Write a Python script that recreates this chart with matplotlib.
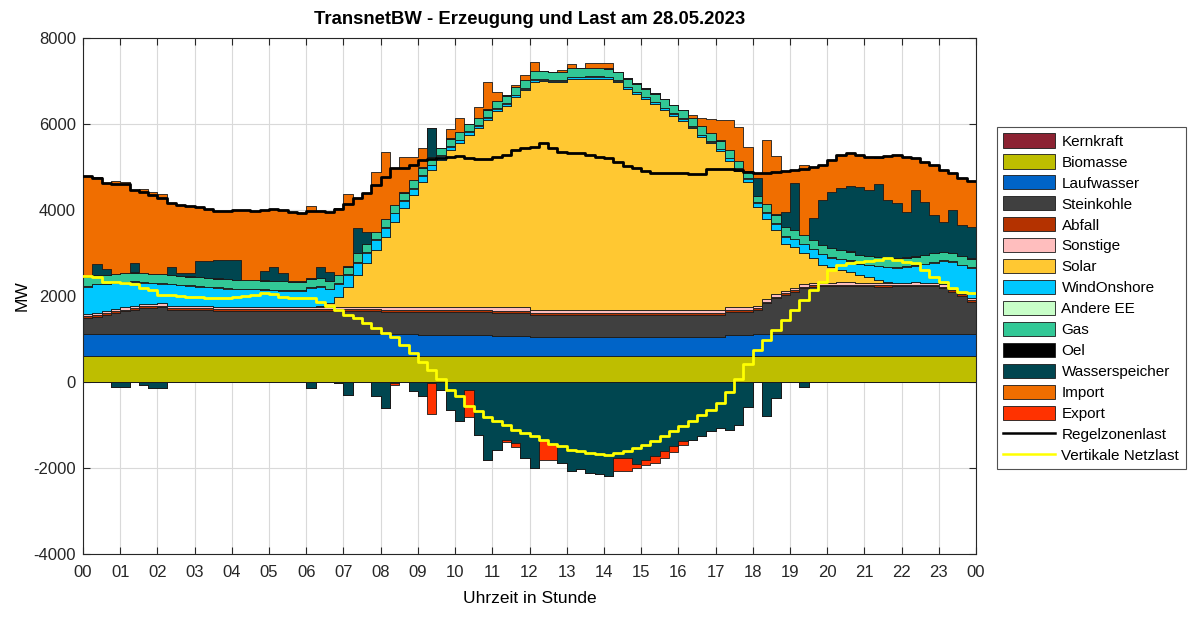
import numpy as np
import matplotlib
matplotlib.use("Agg")
import matplotlib.pyplot as plt
from matplotlib.patches import Patch
from matplotlib.lines import Line2D

plt.rcParams['font.family'] = ['Liberation Sans', 'DejaVu Sans']
plt.rcParams['axes.unicode_minus'] = False

# ---------------- data (MW per quarter hour, 96 values) ----------------
kernkraft = [0] * 96
biomasse = [600] * 96
laufwasser = [516, 516, 516, 516, 516, 516, 516, 516, 516, 516, 516, 516,
              516, 516, 516, 516, 516, 516, 516, 516, 516, 516, 516, 516,
              516, 516, 516, 516, 516, 516, 516, 516, 505, 505, 505, 505,
              495, 495, 495, 495, 485, 485, 485, 485, 475, 475, 475, 475,
              455, 455, 455, 455, 455, 455, 455, 455, 455, 455, 455, 455,
              455, 455, 455, 455, 455, 455, 455, 455, 455, 490, 490, 490,
              516, 516, 516, 516, 516, 516, 516, 516, 516, 516, 516, 516,
              516, 516, 516, 516, 516, 516, 516, 516, 516, 516, 516, 516]
steinkohle = [375, 400, 440, 490, 530, 570, 600, 610, 620, 570, 560, 560,
              560, 560, 540, 540, 540, 540, 540, 540, 540, 540, 540, 540,
              540, 540, 540, 540, 540, 540, 540, 540, 530, 530, 530, 530,
              530, 530, 530, 530, 535, 535, 535, 535, 540, 540, 540, 540,
              505, 505, 505, 505, 505, 505, 505, 505, 505, 505, 505, 505,
              505, 505, 505, 505, 505, 505, 505, 505, 505, 540, 540, 540,
              558, 714, 830, 907, 985, 1062, 1101, 1105, 1105, 1110, 1110, 1105,
              1105, 1100, 1100, 1105, 1105, 1110, 1105, 1105, 1062, 985, 884, 752]
abfall = [40, 40, 40, 40, 40, 40, 40, 40, 40, 40, 40, 40,
          40, 40, 40, 40, 40, 40, 40, 40, 40, 40, 40, 40,
          40, 40, 40, 40, 40, 40, 40, 40, 45, 45, 45, 45,
          45, 45, 45, 45, 45, 45, 45, 45, 45, 45, 45, 45,
          45, 45, 45, 45, 45, 45, 45, 45, 45, 45, 45, 45,
          45, 45, 45, 45, 45, 45, 45, 45, 45, 45, 45, 45,
          40, 40, 40, 40, 40, 40, 40, 40, 40, 40, 40, 40,
          40, 40, 40, 40, 40, 40, 40, 40, 40, 40, 40, 40]
sonstige = [50, 50, 50, 50, 50, 50, 50, 50, 50, 50, 50, 50,
            50, 50, 50, 50, 50, 50, 50, 50, 50, 50, 50, 50,
            50, 50, 50, 50, 50, 50, 50, 50, 75, 75, 75, 75,
            75, 75, 75, 75, 75, 75, 75, 75, 75, 75, 75, 75,
            75, 75, 75, 75, 75, 75, 75, 75, 75, 75, 75, 75,
            75, 75, 75, 75, 75, 75, 75, 75, 75, 75, 75, 75,
            50, 50, 50, 50, 50, 50, 50, 50, 50, 50, 50, 50,
            50, 50, 50, 50, 50, 50, 50, 50, 50, 50, 50, 50]
solar = [0, 0, 0, 0, 0, 0, 0, 0, 0, 0, 0, 0,
         0, 0, 0, 0, 0, 0, 0, 0, 0, 0, 0, 0,
         0, 20, 80, 238, 471, 743, 1014, 1324, 1625, 1974, 2284, 2594,
         2914, 3185, 3418, 3650, 3810, 4011, 4160, 4360, 4565, 4695, 4885, 5045,
         5305, 5310, 5288, 5287, 5367, 5366, 5378, 5378, 5362, 5288, 5133, 5016,
         4900, 4784, 4645, 4513, 4396, 4220, 4020, 3870, 3690, 3400, 3150, 2900,
         2314, 1880, 1494, 1107, 955, 741, 566, 416, 360, 300, 240, 170,
         120, 70, 30, 0, 0, 0, 0, 0, 0, 0, 0, 0]
wind_onshore = [638, 668, 628, 601, 577, 552, 507, 481, 464, 498, 485, 469,
                453, 438, 442, 427, 412, 412, 412, 396, 388, 380, 372, 372,
                445, 444, 330, 300, 270, 290, 250, 230, 210, 190, 170, 150,
                130, 110, 90, 80, 70, 60, 55, 50, 50, 45, 45, 40,
                40, 40, 40, 40, 40, 40, 40, 40, 40, 40, 40, 40,
                40, 40, 40, 40, 40, 40, 40, 40, 40, 50, 60, 70,
                93, 130, 150, 160, 170, 190, 210, 240, 220, 240, 260, 253,
                280, 313, 330, 346, 369, 383, 423, 463, 543, 597, 621, 699]
andere_ee = [15] * 96
gas = [200, 200, 200, 200, 200, 200, 200, 200, 200, 200, 200, 200,
       200, 200, 200, 200, 200, 200, 200, 200, 200, 200, 200, 200,
       200, 200, 180, 180, 180, 210, 180, 180, 180, 180, 180, 180,
       180, 170, 170, 170, 170, 170, 170, 170, 170, 170, 180, 180,
       190, 190, 190, 190, 190, 190, 190, 190, 190, 190, 190, 190,
       190, 190, 190, 190, 190, 190, 190, 190, 190, 180, 170, 160,
       135, 200, 200, 200, 200, 200, 200, 200, 200, 200, 200, 200,
       200, 200, 200, 200, 200, 200, 200, 200, 200, 200, 200, 200]
oel = [5] * 96
wasserspeicher = [0, 256, 132, 0, 0, 217, 0, 0, 0, 178, 62, 78,
                  364, 380, 434, 450, 450, 0, 0, 209, 326, 186, 0, 0,
                  0, 250, 200, 0, 0, 580, 287, 0, 0, 0, 0, 0,
                  0, 670, 0, 0, 0, 0, 0, 0, 0, 0, 0, 0,
                  0, 0, 0, 0, 0, 0, 0, 0, 0, 0, 0, 0,
                  0, 0, 0, 0, 0, 0, 0, 0, 0, 0, 0, 0,
                  411, 0, 0, 361, 1085, 0, 504, 1046, 1317, 1435, 1512, 1574,
                  1535, 1707, 1342, 1294, 1061, 1536, 1240, 890, 698, 993, 721, 735]
import_ = [2352, 2027, 2009, 2148, 2124, 1700, 1966, 1912, 1862, 1499, 1591, 1560,
           1260, 1219, 1142, 1141, 1172, 1622, 1606, 1429, 1336, 1468, 1608, 1585,
           1690, 1304, 1390, 1555, 1678, 683, 891, 1392, 1567, 851, 832, 542,
           446, 0, 0, 213, 324, 0, 259, 645, 205, 10, 43, 120,
           215, 0, 0, 40, 100, 0, 120, 120, 120, 0, 0, 0,
           0, 0, 0, 0, 0, 50, 184, 310, 474, 694, 789, 574,
           116, 1479, 1357, 954, 309, 1628, 1185, 814, 736, 774, 775, 751,
           774, 604, 1023, 1108, 1264, 760, 930, 1163, 1201, 852, 1085, 1071]
wasserspeicher_pump = [0, 0, 0, -108, -108, 0, -70, -128, -128, 0, 0, 0,
                       0, 0, 0, 0, 0, 0, 0, 0, 0, 0, 0, 0,
                       -128, 0, 0, -30, -300, 0, 0, -333, -605, -20, 0, -217,
                       -333, -30, -178, -643, -899, -178, -1225, -1806, -1574, -1341, -1419, -1768,
                       -2000, -1341, -1450, -1884, -2078, -2016, -2117, -2140, -2194, -1768, -1768, -1900,
                       -1806, -1729, -1613, -1496, -1380, -1341, -1264, -1148, -1070, -1109, -992, -589,
                       0, -800, -372, 0, 0, -124, 0, 0, 0, 0, 0, 0,
                       0, 0, 0, 0, 0, 0, 0, 0, 0, 0, 0, 0]
export = [0, 0, 0, 0, 0, 0, 0, 0, 0, 0, 0, 0,
          0, 0, 0, 0, 0, 0, 0, 0, 0, 0, 0, 0,
          0, 0, 0, 0, 0, 0, 0, 0, 0, -40, 0, 0,
          0, -714, 0, 0, 0, -644, 0, 0, 0, -55, -101, 0,
          0, -465, -356, 0, 0, 0, 0, 0, 0, -310, -310, -110,
          -130, -155, -155, -130, -78, 0, 0, 0, 0, 0, 0, 0,
          0, 0, 0, 0, 0, 0, 0, 0, 0, 0, 0, 0,
          0, 0, 0, 0, 0, 0, 0, 0, 0, 0, 0, 0]
regelzonenlast = [4791, 4737, 4635, 4605, 4597, 4465, 4419, 4349, 4272, 4171, 4124, 4093,
                  4063, 4023, 3984, 3984, 4000, 4000, 3984, 4000, 4016, 4000, 3946, 3923,
                  3980, 3984, 3946, 4016, 4140, 4272, 4388, 4582, 4775, 4970, 4970, 5047,
                  5163, 5179, 5202, 5240, 5256, 5202, 5186, 5186, 5225, 5279, 5395, 5434,
                  5473, 5551, 5434, 5357, 5333, 5318, 5279, 5240, 5202, 5124, 5023, 4970,
                  4915, 4868, 4853, 4853, 4853, 4837, 4837, 4954, 4954, 4954, 4930, 4892,
                  4853, 4853, 4892, 4915, 4930, 4946, 4992, 5047, 5163, 5279, 5318, 5279,
                  5240, 5225, 5256, 5279, 5225, 5210, 5124, 5047, 4930, 4853, 4737, 4683]
vertikale_netzlast = [2473, 2434, 2333, 2318, 2310, 2279, 2194, 2140, 2023, 2023, 2010, 1985,
                      1969, 1960, 1946, 1960, 1985, 2000, 2023, 2062, 2039, 1985, 1962, 1946,
                      1946, 1868, 1767, 1674, 1558, 1481, 1365, 1249, 1147, 1039, 860, 667,
                      473, 279, 60, -180, -333, -566, -682, -821, -914, -1008, -1109, -1186,
                      -1264, -1341, -1442, -1496, -1574, -1613, -1651, -1674, -1690, -1651, -1613, -1535,
                      -1457, -1364, -1264, -1148, -1031, -899, -775, -643, -488, -230, 80, 420,
                      744, 977, 1209, 1442, 1674, 1907, 2140, 2333, 2605, 2721, 2760, 2798,
                      2814, 2837, 2891, 2837, 2798, 2760, 2605, 2450, 2333, 2178, 2101, 2062]
hour_labels = ['00', '01', '02', '03', '04', '05', '06', '07', '08', '09', '10', '11',
               '12', '13', '14', '15', '16', '17', '18', '19', '20', '21', '22', '23', '00']

pos_layers = [
    ('Kernkraft', kernkraft, '#8C2232'),
    ('Biomasse', biomasse, '#BEBE00'),
    ('Laufwasser', laufwasser, '#0064C8'),
    ('Steinkohle', steinkohle, '#404040'),
    ('Abfall', abfall, '#B43200'),
    ('Sonstige', sonstige, '#FFBEBE'),
    ('Solar', solar, '#FFC832'),
    ('WindOnshore', wind_onshore, '#00C8FF'),
    ('Andere EE', andere_ee, '#C8FFC8'),
    ('Gas', gas, '#32C896'),
    ('Oel', oel, '#000000'),
    ('Wasserspeicher', wasserspeicher, '#004650'),
    ('Import', import_, '#F06E00'),
]
neg_layers = [
    ('Wasserspeicher', wasserspeicher_pump, '#004650'),
    ('Export', export, '#FF3200'),
]

n = len(regelzonenlast)
x = np.arange(n + 1) / 4.0


def ext(a):
    a = np.asarray(a, dtype=float)
    return np.append(a, a[-1])


fig = plt.figure(figsize=(12, 6.24), dpi=100)
ax = fig.add_axes([83 / 1200, 1 - 554 / 624, (976 - 83) / 1200, (554 - 38) / 624])

edge = '#1a1a1a'
base = np.zeros(n)
for name, vals, col in pos_layers:
    top = base + np.asarray(vals, dtype=float)
    ax.fill_between(x, ext(base), ext(top), step='post', facecolor=col,
                    edgecolor=edge, linewidth=0.6, zorder=2)
    base = top

base = np.zeros(n)
for name, vals, col in neg_layers:
    top = base + np.asarray(vals, dtype=float)
    ax.fill_between(x, ext(base), ext(top), step='post', facecolor=col,
                    edgecolor=edge, linewidth=0.6, zorder=2)
    base = top

ax.plot(x, ext(regelzonenlast), drawstyle='steps-post', color='black', lw=2.0, zorder=4)
ax.plot(x, ext(vertikale_netzlast), drawstyle='steps-post', color='#FFFF00', lw=2.0, zorder=4)

ax.set_xlim(0, 24)
ax.set_ylim(-4000, 8000)
ax.set_xticks(range(25))
ax.set_xticklabels(hour_labels)
ax.set_yticks(range(-4000, 8001, 2000))
ax.grid(True, color='#d9d9d9', linewidth=0.8, zorder=0)
ax.set_axisbelow(True)
ax.tick_params(direction='in', top=True, right=True, labelsize=12, length=5, width=0.8,
               colors='#262626')
ax.tick_params(axis='x', pad=8)
ax.tick_params(axis='y', pad=5)
for s in ax.spines.values():
    s.set_color('#262626')
    s.set_linewidth(0.8)
ax.set_title('TransnetBW - Erzeugung und Last am 28.05.2023', fontsize=13.3,
             fontweight='bold', pad=10)
ax.set_xlabel('Uhrzeit in Stunde', fontsize=12.5, labelpad=8)
ax.set_ylabel('MW', fontsize=12.5, labelpad=3)

handles = [Patch(facecolor=c, edgecolor=edge, linewidth=0.6) for _, _, c in pos_layers]
labels = [nm for nm, _, _ in pos_layers]
handles.append(Patch(facecolor='#FF3200', edgecolor=edge, linewidth=0.6))
labels.append('Export')
handles.append(Line2D([], [], color='black', lw=1.8))
labels.append('Regelzonenlast')
handles.append(Line2D([], [], color='#FFFF00', lw=1.8))
labels.append('Vertikale Netzlast')

leg = fig.legend(handles, labels, loc='upper left',
                 bbox_to_anchor=(997 / 1200, 1 - 127 / 624), fontsize=11,
                 frameon=True, fancybox=False, edgecolor='#262626', borderaxespad=0,
                 handlelength=3.4, handleheight=1.05, labelspacing=0.37,
                 handletextpad=0.4, borderpad=0.42)
leg.get_frame().set_linewidth(0.8)

fig.savefig('out.png', dpi=100)
